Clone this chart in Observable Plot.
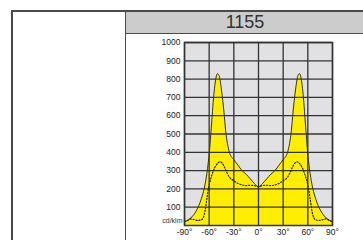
<!DOCTYPE html>
<html>
<head>
<meta charset="utf-8">
<script src="https://cdn.jsdelivr.net/npm/d3@7"></script>
<script src="https://cdn.jsdelivr.net/npm/@observablehq/plot@0.6"></script>
<style>
  html, body { margin: 0; padding: 0; background: #fff; }
  #wrap { position: relative; width: 363px; height: 240px; overflow: hidden; font-family: "Liberation Sans", Arial, sans-serif; }
  #wrap svg { position: absolute; left: 0; top: 0; }
  .ln { position: absolute; background: #4a4a4a; }
  #hdr { position: absolute; left: 125px; top: 10px; width: 240px; height: 23px; background: #cccccc;
         font-size: 18px; color: #333; text-align: center; line-height: 24px; }
</style>
</head>
<body>
<div id="wrap"></div>
<script>
const title = "1155";
const unitLabel = "cd/klm";
const xTicks = [-90, -60, -30, 0, 30, 60, 90];
const yTicks = [100, 200, 300, 400, 500, 600, 700, 800, 900, 1000];

// solid curve (C0-C180 plane)
const solidAngles = [-90,-85,-80,-75,-70,-65,-62,-60,-57,-55,-52,-50,-48,-45,-42,-40,-37,-35,-30,-25,-20,-15,-10,-5,0,
                     5,10,15,20,25,30,35,37,40,42,45,48,50,52,55,57,60,62,65,70,75,80,85,90];
const solidValues = [20,32,52,86,140,225,310,390,560,680,800,830,820,740,620,520,430,395,360,330,300,280,255,230,212,
                     230,255,280,300,330,360,395,430,520,620,740,820,830,800,680,560,390,310,225,140,86,52,32,20];
// dotted curve (C90-C270 plane)
const dotAngles = [-90,-86,-82,-78,-74,-70,-67,-65,-63,-61,-59,-56,-53,-50,-47,-44,-41,-38,-35,-30,-25,-20,-15,-10,-5,0,
                   5,10,15,20,25,30,35,38,41,44,47,50,53,56,59,61,63,65,67,70,74,78,82,86,90];
const dotValues = [22,28,36,32,28,30,45,80,140,200,240,285,318,338,348,340,315,285,262,245,230,222,218,220,218,212,
                   218,220,218,222,230,245,262,285,315,340,348,338,318,285,240,200,140,80,45,30,28,32,36,28,22];

const solid = solidAngles.map((a, i) => ({a, v: solidValues[i]}));
const dotted = dotAngles.map((a, i) => ({a, v: dotValues[i]}));

const plot = Plot.plot({
  width: 363, height: 240,
  marginLeft: 184, marginRight: 31, marginTop: 42, marginBottom: 15,
  style: {background: "transparent", fontFamily: "Liberation Sans, Arial, sans-serif", fontSize: "8.5px", color: "#222"},
  x: {domain: [-90, 90], label: null},
  y: {domain: [0, 1000], label: null},
  marks: [
    Plot.frame({fill: "#e1e1e3"}),
    Plot.areaY(solid, {x: "a", y: "v", fill: "#ffee00", curve: "monotone-x"}),
    Plot.gridX(xTicks, {stroke: "#333", strokeOpacity: 1, strokeWidth: 1.3}),
    Plot.gridY(yTicks, {stroke: "#333", strokeOpacity: 1, strokeWidth: 1.3}),
    Plot.lineY(solid, {x: "a", y: "v", stroke: "#333", strokeWidth: 1, curve: "monotone-x"}),
    Plot.lineY(dotted, {x: "a", y: "v", stroke: "#222", strokeWidth: 1.2, strokeDasharray: "1.2,1.8", curve: "monotone-x"}),
    Plot.frame({stroke: "#333", strokeWidth: 1.5}),
    Plot.axisX({ticks: xTicks, tickFormat: d => d + "°", tickSize: 0, tickPadding: 3}),
    Plot.axisY({ticks: yTicks, tickFormat: d => String(d), tickSize: 0, tickPadding: 4}),
    Plot.text([unitLabel], {frameAnchor: "bottom-left", text: d => d, textAnchor: "end", dx: -2, dy: -3, fontSize: 7, fill: "#333"})
  ]
});

const wrap = document.getElementById("wrap");
wrap.appendChild(plot);
function line(l, t, w, h) {
  const d = document.createElement("div");
  d.className = "ln";
  Object.assign(d.style, {left: l + "px", top: t + "px", width: w + "px", height: h + "px"});
  wrap.appendChild(d);
}
const hdr = document.createElement("div");
hdr.id = "hdr";
hdr.textContent = title;
wrap.appendChild(hdr);
line(11, 10, 360, 1.5);   // top
line(11, 10, 1.5, 240);   // left
line(124.5, 10, 1.5, 240); // divider
line(124.5, 32.5, 240, 1.5); // header bottom
</script>
</body>
</html>
